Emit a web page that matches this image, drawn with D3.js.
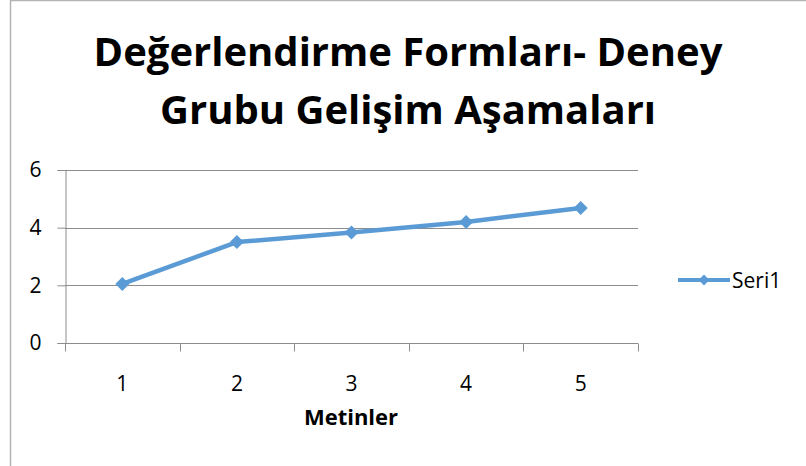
<!DOCTYPE html>
<html>
<head>
<meta charset="utf-8">
<script src="https://cdn.jsdelivr.net/npm/d3@7"></script>
<style>
  body { margin: 0; background: #fff; }
  svg { display: block; font-family: "Open Sans", "Liberation Sans", sans-serif; }
</style>
</head>
<body>
<svg id="chart" width="806" height="466"></svg>
<script>
const titleLines = ['Değerlendirme Formları- Deney', 'Grubu Gelişim Aşamaları'];
const categories = ['1', '2', '3', '4', '5'];
const seri1 = [2.05, 3.5, 3.83, 4.2, 4.68];
const yTicks = [0, 2, 4, 6];
const seriesName = 'Seri1';
const xTitle = 'Metinler';

const blue = '#5b9bd5';
const grid = '#8c8c8c';

const svg = d3.select('#chart');

// chart frame (partly cropped in reference)
svg.append('rect')
  .attr('x', 10.5).attr('y', 0.5)
  .attr('width', 820).attr('height', 480)
  .attr('fill', '#fff').attr('stroke', '#b4b4b4').attr('stroke-width', 1.5);

// title
svg.append('g').selectAll('text')
  .data(titleLines)
  .join('text')
  .attr('x', 408)
  .attr('y', (d, i) => 66 + i * 58)
  .attr('text-anchor', 'middle')
  .attr('font-size', 40)
  .attr('font-weight', 'bold')
  .attr('fill', '#000')
  .text(d => d);

const plot = { left: 65, right: 638, top: 170, bottom: 343 };

const x = d3.scaleBand().domain(categories).range([plot.left, plot.right]);
const y = d3.scaleLinear().domain([0, 6]).range([plot.bottom, plot.top]);

// horizontal gridlines
svg.append('g').selectAll('line')
  .data(yTicks.slice(1))
  .join('line')
  .attr('x1', plot.left).attr('x2', plot.right)
  .attr('y1', d => Math.round(y(d)) + 0.5).attr('y2', d => Math.round(y(d)) + 0.5)
  .attr('stroke', grid).attr('stroke-width', 1);

// y axis
const yAxis = svg.append('g')
  .attr('transform', `translate(${plot.left + 0.5},0)`)
  .call(d3.axisLeft(y).tickValues(yTicks).tickFormat(d3.format('d')).tickSize(8).tickPadding(16));
yAxis.select('.domain').attr('stroke', grid);
yAxis.selectAll('.tick line').attr('stroke', grid);
yAxis.selectAll('.tick text').attr('font-size', 21).attr('fill', '#000')
  .attr('font-family', '"Open Sans", sans-serif');

// x axis: ticks at band boundaries
const xAxisG = svg.append('g').attr('transform', `translate(0,${Math.round(plot.bottom) + 0.5})`);
xAxisG.append('line')
  .attr('x1', plot.left).attr('x2', plot.right)
  .attr('stroke', grid);
const bounds = categories.map(c => x(c)).concat([x(categories[categories.length - 1]) + x.bandwidth()]);
xAxisG.selectAll('line.tk')
  .data(bounds)
  .join('line')
  .attr('class', 'tk')
  .attr('x1', d => Math.round(d) + 0.5).attr('x2', d => Math.round(d) + 0.5)
  .attr('y1', 0).attr('y2', 8)
  .attr('stroke', grid);
xAxisG.selectAll('text')
  .data(categories)
  .join('text')
  .attr('x', d => x(d) + x.bandwidth() / 2)
  .attr('y', 47)
  .attr('text-anchor', 'middle')
  .attr('font-size', 21)
  .attr('fill', '#000')
  .text(d => d);

// x axis title
svg.append('text')
  .attr('x', 351).attr('y', 425)
  .attr('text-anchor', 'middle')
  .attr('font-size', 22).attr('font-weight', 'bold')
  .text(xTitle);

// series line
const pts = categories.map((c, i) => ({ c, v: seri1[i] }));
svg.append('path')
  .datum(pts)
  .attr('fill', 'none')
  .attr('stroke', blue)
  .attr('stroke-width', 4.5)
  .attr('stroke-linejoin', 'round')
  .attr('d', d3.line().x(d => x(d.c) + x.bandwidth() / 2).y(d => y(d.v)));

const diamond = d3.symbol().type(d3.symbolDiamond2).size(125);
svg.append('g').selectAll('path')
  .data(pts)
  .join('path')
  .attr('transform', d => `translate(${x(d.c) + x.bandwidth() / 2},${y(d.v)})`)
  .attr('d', diamond)
  .attr('fill', blue);

// legend
const lg = svg.append('g').attr('transform', 'translate(678,280)');
lg.append('line').attr('x1', 0).attr('x2', 52).attr('stroke', blue).attr('stroke-width', 4);
lg.append('path').attr('transform', 'translate(26,0)')
  .attr('d', d3.symbol().type(d3.symbolDiamond2).size(75)).attr('fill', blue);
lg.append('text').attr('x', 54).attr('y', 7.5)
  .attr('font-size', 21).text(seriesName);
</script>
</body>
</html>
